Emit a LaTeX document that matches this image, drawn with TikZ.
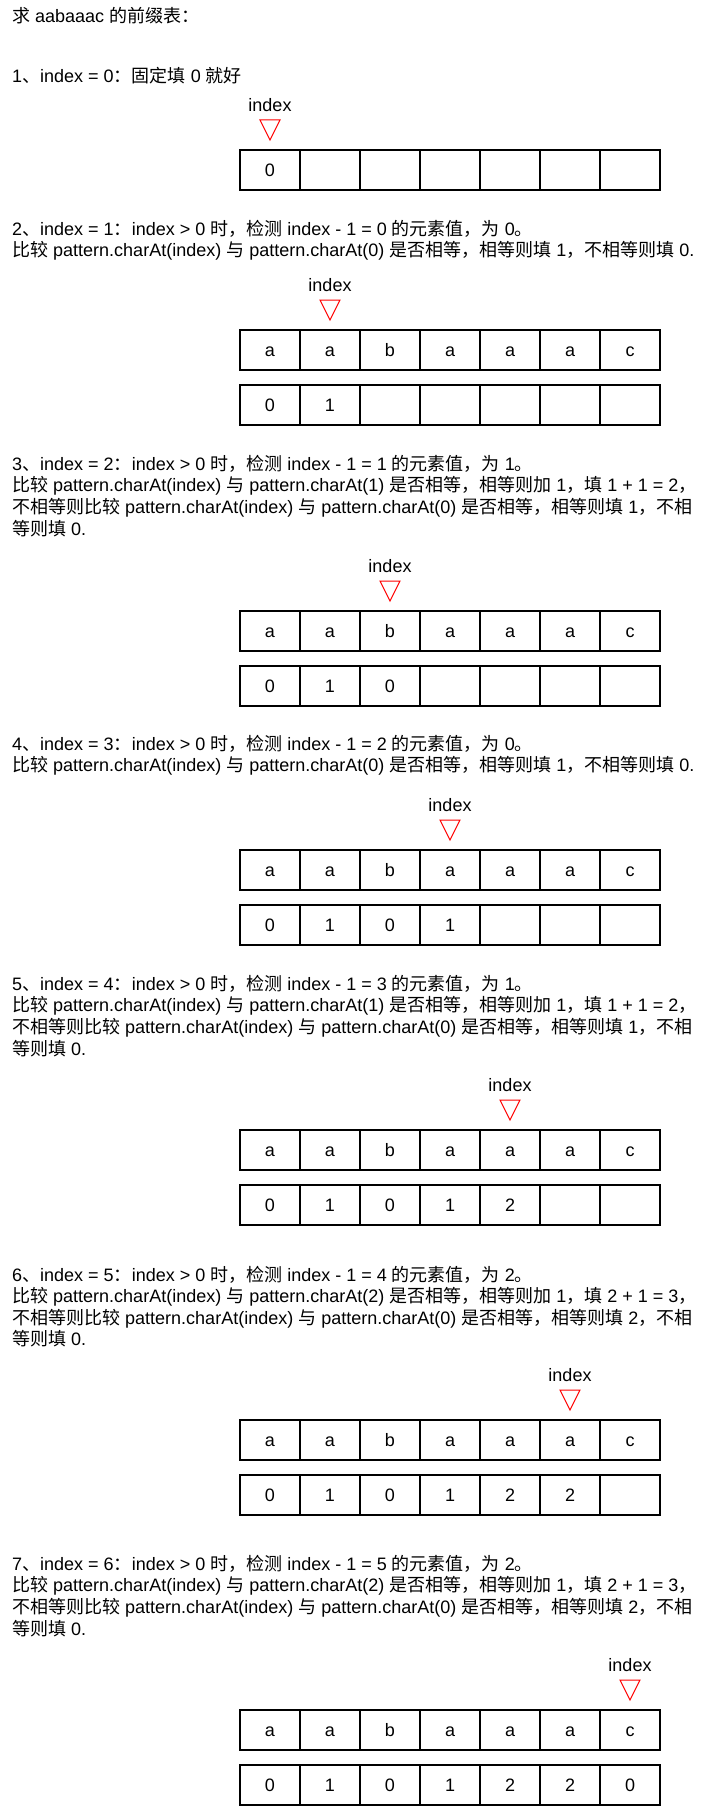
\documentclass[tikz,border=0pt]{standalone}
\usepackage{fontspec}
\setmainfont{Liberation Sans}
\newfontfamily\cjk{Noto Sans CJK SC}
\newcommand\zh[1]{{\cjk #1}}
\tikzset{
  txt/.style={anchor=base west, inner sep=0pt, font=\fontsize{18}{21.6}\selectfont},
  cell/.style={draw, line width=1.2pt, minimum width=60pt, minimum height=40pt, inner sep=0pt, text height=13pt, text depth=0pt, font=\fontsize{18}{21.6}\selectfont, anchor=center},
  lbl/.style={inner sep=0pt, font=\fontsize{18}{21.6}\selectfont},
  ptr/.style={draw=red, fill=white, line width=1pt, line join=miter},
}
\newcommand\cellrow[3]{%
  \foreach \v [count=\i from 0] in {#3} {\node[cell] (#1-\i) at (270+60*\i, #2+20) {\v};}}
\newcommand\pointer[3]{%
  \node[lbl] (#1) at (#2, #3-45) {index};
  \draw[ptr] (#2-10, #3-30) -- (#2+10, #3-30) -- (#2, #3-10) -- cycle;}
\begin{document}
\begin{tikzpicture}[x=1pt,y=-1pt]
\useasboundingbox[fill=white] (0,0) rectangle (721,1806);
% title
\node[txt] (title) at (12,23) {\zh{求} aabaaac \zh{的前缀表：}};
% step 1
\node[txt] (s1a) at (12,83) {1\zh{、}index = 0\zh{：固定填} 0 \zh{就好}};
\pointer{p1}{270}{150}
\cellrow{r1b}{150}{0,{},{},{},{},{},{}}
% step 2
\node[txt] (s2a) at (12,235.3) {2\zh{、}index = 1\zh{：}index > 0 \zh{时，检测} index - 1 = 0 \zh{的元素值，为} 0\zh{。}};
\node[txt] (s2b) at (12,256.9) {\zh{比较} pattern.charAt(index) \zh{与} pattern.charAt(0) \zh{是否相等，相等则填} 1\zh{，不相等则填} 0.};
\pointer{p2}{330}{330}
\cellrow{r2a}{330}{a,a,b,a,a,a,c}
\cellrow{r2b}{385}{0,1,{},{},{},{},{}}
% step 3
\node[txt] (s3a) at (12,470.3) {3\zh{、}index = 2\zh{：}index > 0 \zh{时，检测} index - 1 = 1 \zh{的元素值，为} 1\zh{。}};
\node[txt] (s3b) at (12,491.9) {\zh{比较} pattern.charAt(index) \zh{与} pattern.charAt(1) \zh{是否相等，相等则加} 1\zh{，填} 1 + 1 = 2\zh{，}};
\node[txt] (s3c) at (12,513.5) {\zh{不相等则比较} pattern.charAt(index) \zh{与} pattern.charAt(0) \zh{是否相等，相等则填} 1\zh{，不相}};
\node[txt] (s3d) at (12,535.1) {\zh{等则填} 0.};
\pointer{p3}{390}{611}
\cellrow{r3a}{611}{a,a,b,a,a,a,c}
\cellrow{r3b}{666}{0,1,0,{},{},{},{}}
% step 4
\node[txt] (s4a) at (12,750) {4\zh{、}index = 3\zh{：}index > 0 \zh{时，检测} index - 1 = 2 \zh{的元素值，为} 0\zh{。}};
\node[txt] (s4b) at (12,771.6) {\zh{比较} pattern.charAt(index) \zh{与} pattern.charAt(0) \zh{是否相等，相等则填} 1\zh{，不相等则填} 0.};
\pointer{p4}{450}{850}
\cellrow{r4a}{850}{a,a,b,a,a,a,c}
\cellrow{r4b}{905}{0,1,0,1,{},{},{}}
% step 5
\node[txt] (s5a) at (12,990.3) {5\zh{、}index = 4\zh{：}index > 0 \zh{时，检测} index - 1 = 3 \zh{的元素值，为} 1\zh{。}};
\node[txt] (s5b) at (12,1011.9) {\zh{比较} pattern.charAt(index) \zh{与} pattern.charAt(1) \zh{是否相等，相等则加} 1\zh{，填} 1 + 1 = 2\zh{，}};
\node[txt] (s5c) at (12,1033.5) {\zh{不相等则比较} pattern.charAt(index) \zh{与} pattern.charAt(0) \zh{是否相等，相等则填} 1\zh{，不相}};
\node[txt] (s5d) at (12,1055.1) {\zh{等则填} 0.};
\pointer{p5}{510}{1130}
\cellrow{r5a}{1130}{a,a,b,a,a,a,c}
\cellrow{r5b}{1185}{0,1,0,1,2,{},{}}
% step 6
\node[txt] (s6a) at (12,1281) {6\zh{、}index = 5\zh{：}index > 0 \zh{时，检测} index - 1 = 4 \zh{的元素值，为} 2\zh{。}};
\node[txt] (s6b) at (12,1302.6) {\zh{比较} pattern.charAt(index) \zh{与} pattern.charAt(2) \zh{是否相等，相等则加} 1\zh{，填} 2 + 1 = 3\zh{，}};
\node[txt] (s6c) at (12,1324.2) {\zh{不相等则比较} pattern.charAt(index) \zh{与} pattern.charAt(0) \zh{是否相等，相等则填} 2\zh{，不相}};
\node[txt] (s6d) at (12,1345.8) {\zh{等则填} 0.};
\pointer{p6}{570}{1420}
\cellrow{r6a}{1420}{a,a,b,a,a,a,c}
\cellrow{r6b}{1475}{0,1,0,1,2,2,{}}
% step 7
\node[txt] (s7a) at (12,1570.3) {7\zh{、}index = 6\zh{：}index > 0 \zh{时，检测} index - 1 = 5 \zh{的元素值，为} 2\zh{。}};
\node[txt] (s7b) at (12,1591.9) {\zh{比较} pattern.charAt(index) \zh{与} pattern.charAt(2) \zh{是否相等，相等则加} 1\zh{，填} 2 + 1 = 3\zh{，}};
\node[txt] (s7c) at (12,1613.5) {\zh{不相等则比较} pattern.charAt(index) \zh{与} pattern.charAt(0) \zh{是否相等，相等则填} 2\zh{，不相}};
\node[txt] (s7d) at (12,1635.1) {\zh{等则填} 0.};
\pointer{p7}{630}{1710}
\cellrow{r7a}{1710}{a,a,b,a,a,a,c}
\cellrow{r7b}{1765}{0,1,0,1,2,2,0}
\end{tikzpicture}
\end{document}
